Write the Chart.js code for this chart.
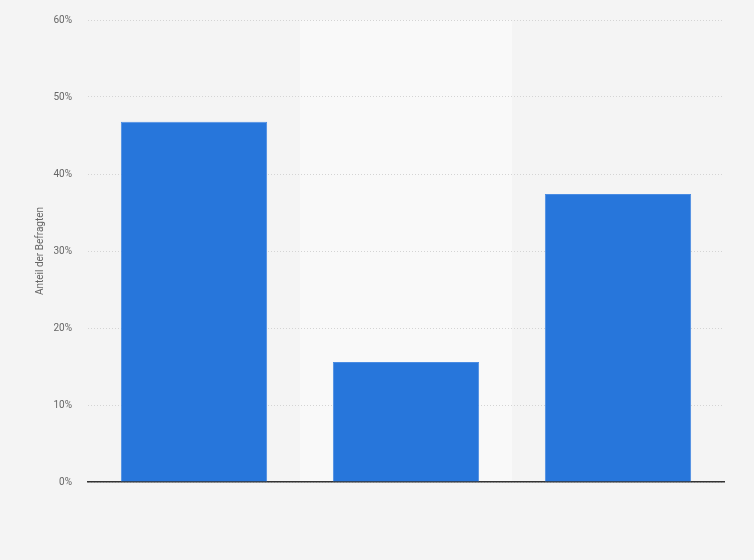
<!DOCTYPE html>
<html><head><meta charset="utf-8">
<script src="https://cdn.jsdelivr.net/npm/chart.js@4.4.0/dist/chart.umd.min.js"></script>
<style>html,body{margin:0;padding:0;background:#f4f4f4;}#wrap{width:754px;height:560px;}</style>
</head><body><div id="wrap"><canvas id="c" width="754" height="560"></canvas></div>
<script>
const categories = ["", "", ""];
const values = [46.8, 15.6, 37.4];
const yTicks = [0, 10, 20, 30, 40, 50, 60];
const yTitle = "Anteil der Befragten";

const bandBehind = {
  id: 'bandBehind',
  beforeDraw(chart) {
    const {ctx, chartArea, scales} = chart;
    ctx.save();
    ctx.fillStyle = '#f4f4f4';
    ctx.fillRect(0, 0, chart.width, chart.height);
    const w = (chartArea.right - chartArea.left) / categories.length;
    const cx = scales.x.getPixelForValue(1);
    ctx.fillStyle = '#f9f9f9';
    ctx.fillRect(cx - w / 2, chartArea.top, w, chartArea.bottom - chartArea.top);
    ctx.restore();
  }
};

new Chart(document.getElementById('c'), {
  type: 'bar',
  data: {
    labels: categories,
    datasets: [{
      data: values,
      backgroundColor: '#2776db',
      borderColor: '#4a8ce3',
      borderWidth: {top: 1, left: 1, right: 1, bottom: 0},
      categoryPercentage: 1,
      barPercentage: 0.69
    }]
  },
  plugins: [bandBehind],
  options: {
    responsive: false,
    animation: false,
    devicePixelRatio: 1,
    layout: {padding: {top: 20, right: 30, bottom: 78, left: 0}},
    plugins: {legend: {display: false}, tooltip: {enabled: false}},
    scales: {
      x: {
        grid: {display: false},
        border: {display: true, color: '#333333', width: 1.5},
        ticks: {display: false},
        afterFit(s) { s.height = 0; }
      },
      y: {
        min: 0, max: 60,
        afterBuildTicks(s) { s.ticks = yTicks.map(v => ({value: v})); },
        afterFit(s) { s.width = 88; s.paddingTop = 0; s.paddingBottom = 0; },
        grid: {color: '#d4d4d4', lineWidth: 1, drawTicks: false},
        border: {display: false, dash: [1, 2]},
        ticks: {
          padding: 16,
          color: '#666666',
          font: {family: 'Roboto, Arial, sans-serif', size: 10},
          callback: v => v + '%'
        },
        title: {
          display: true,
          text: yTitle,
          color: '#666666',
          font: {family: 'Roboto, Arial, sans-serif', size: 10},
          padding: {top: 34, bottom: 0}
        }
      }
    }
  }
});
</script></body></html>
